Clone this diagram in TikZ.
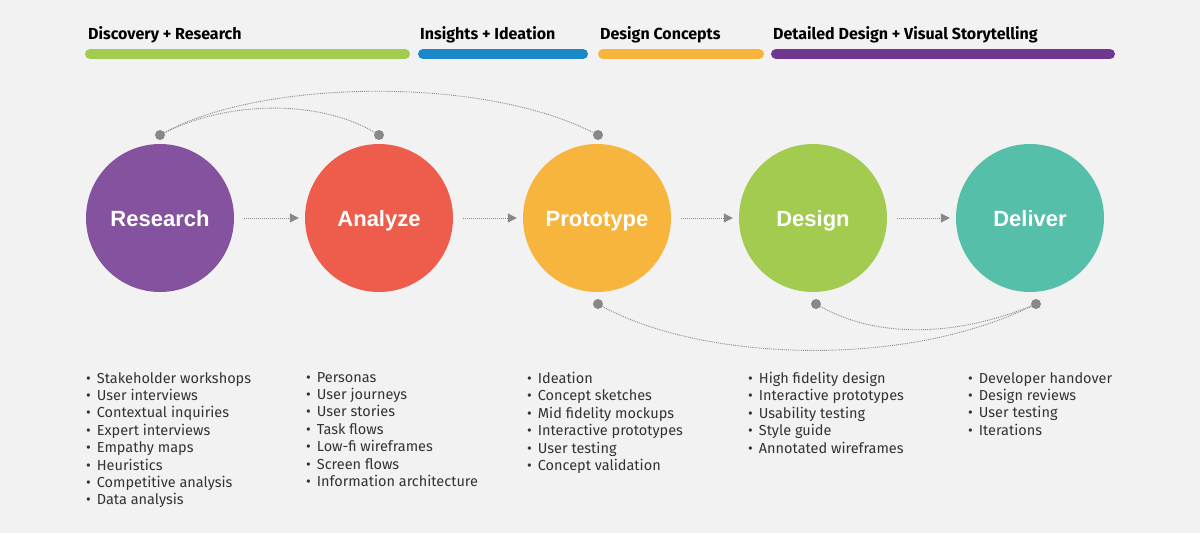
\documentclass[tikz,border=0pt]{standalone}
\usepackage{fontspec}
\setmainfont{Fira Sans}
\newfontfamily\circfont{Liberation Sans}
\usetikzlibrary{arrows.meta}
\definecolor{bg}{HTML}{F2F2F2}
\definecolor{cgreen}{HTML}{A2CB50}
\definecolor{cblue}{HTML}{1A87C8}
\definecolor{corange}{HTML}{F8B53E}
\definecolor{cpurple}{HTML}{6F3790}
\definecolor{rpurple}{HTML}{84529E}
\definecolor{rred}{HTML}{EE5D4B}
\definecolor{rteal}{HTML}{56BFA9}
\definecolor{gry}{HTML}{888888}
\definecolor{txt}{HTML}{333333}
\tikzset{
  bar/.style={line width=10pt,line cap=round},
  phase/.style={anchor=base west,font=\fontsize{16}{18}\selectfont\bfseries,text=black,inner sep=0},
  circ/.style={circle,minimum size=148pt,inner sep=0,text=white,font=\circfont\fontsize{22}{24}\selectfont\bfseries},
  clab/.style={anchor=base,inner sep=0,text=white,font=\circfont\fontsize{22}{24}\selectfont\bfseries},
  dotc/.style={circle,fill=gry,minimum size=10pt,inner sep=0},
  link/.style={draw=gry,densely dotted,line width=0.9pt},
  flow/.style={draw=gry,densely dotted,line width=1pt,-{Triangle[length=9pt,width=9pt]}},
  lst/.style={anchor=north west,align=left,text=txt,font=\fontsize{14.5}{17.4}\selectfont,inner sep=0}
}
\begin{document}
\begin{tikzpicture}[x=1pt,y=-1pt]
\fill[bg] (0,0) rectangle (1200,533);
\useasboundingbox (0,0) rectangle (1200,533);
\node[phase] (p1) at (88,39) {Discovery + Research};
\node[phase] (p2) at (420,39) {Insights + Ideation};
\node[phase] (p3) at (600,39) {Design Concepts};
\node[phase] (p4) at (773,39) {Detailed Design + Visual Storytelling};
\coordinate (b1a) at (90,54); \coordinate (b1b) at (405,54);
\coordinate (b2a) at (423,54); \coordinate (b2b) at (583,54);
\coordinate (b3a) at (603,54); \coordinate (b3b) at (759,54);
\coordinate (b4a) at (776,54); \coordinate (b4b) at (1110,54);
\draw[bar,cgreen] (b1a) -- (b1b);
\draw[bar,cblue] (b2a) -- (b2b);
\draw[bar,corange] (b3a) -- (b3b);
\draw[bar,cpurple] (b4a) -- (b4b);
\node[circ,fill=rpurple] (c1) at (160,218) {};
\node[circ,fill=rred] (c2) at (379,218) {};
\node[circ,fill=corange] (c3) at (597,218) {};
\node[circ,fill=cgreen] (c4) at (813,218) {};
\node[circ,fill=rteal] (c5) at (1030,218) {};
\node[clab] (t1) at (160,226) {Research};
\node[clab] (t2) at (379,226) {Analyze};
\node[clab] (t3) at (597,226) {Prototype};
\node[clab] (t4) at (813,226) {Design};
\node[clab] (t5) at (1030,226) {Deliver};
\draw[flow] ([xshift=10pt]c1.east) -- ([xshift=-6pt]c2.west);
\draw[flow] ([xshift=10pt]c2.east) -- ([xshift=-6pt]c3.west);
\draw[flow] ([xshift=10pt]c3.east) -- ([xshift=-6pt]c4.west);
\draw[flow] ([xshift=10pt]c4.east) -- ([xshift=-6pt]c5.west);
\node[dotc] (d1) at (160,135) {};
\node[dotc] (d2) at (379,135) {};
\node[dotc] (d3) at (598,135) {};
\node[dotc] (d4) at (598,304) {};
\node[dotc] (d5) at (816,304) {};
\node[dotc] (d6) at (1036,304) {};
\draw[link] (d1) .. controls (260,80) and (480,75) .. (d3);
\draw[link] (d1) .. controls (230,100) and (320,100) .. (d2);
\draw[link] (d4) .. controls (700,360) and (900,370) .. (d6);
\draw[link] (d5) .. controls (880,340) and (960,335) .. (d6);
\node[lst] (l1) at (86,372) {•\hspace{6pt}Stakeholder workshops\\•\hspace{6pt}User interviews\\•\hspace{6pt}Contextual inquiries\\•\hspace{6pt}Expert interviews\\•\hspace{6pt}Empathy maps\\•\hspace{6pt}Heuristics\\•\hspace{6pt}Competitive analysis\\•\hspace{6pt}Data analysis};
\node[lst] (l2) at (306,372) {•\hspace{6pt}Personas\\•\hspace{6pt}User journeys\\•\hspace{6pt}User stories\\•\hspace{6pt}Task flows\\•\hspace{6pt}Low-fi wireframes\\•\hspace{6pt}Screen flows\\•\hspace{6pt}Information architecture};
\node[lst] (l3) at (527,372) {•\hspace{6pt}Ideation\\•\hspace{6pt}Concept sketches\\•\hspace{6pt}Mid fidelity mockups\\•\hspace{6pt}Interactive prototypes\\•\hspace{6pt}User testing\\•\hspace{6pt}Concept validation};
\node[lst] (l4) at (748,372) {•\hspace{6pt}High fidelity design\\•\hspace{6pt}Interactive prototypes\\•\hspace{6pt}Usability testing\\•\hspace{6pt}Style guide\\•\hspace{6pt}Annotated wireframes};
\node[lst] (l5) at (968,372) {•\hspace{6pt}Developer handover\\•\hspace{6pt}Design reviews\\•\hspace{6pt}User testing\\•\hspace{6pt}Iterations};
\end{tikzpicture}
\end{document}
